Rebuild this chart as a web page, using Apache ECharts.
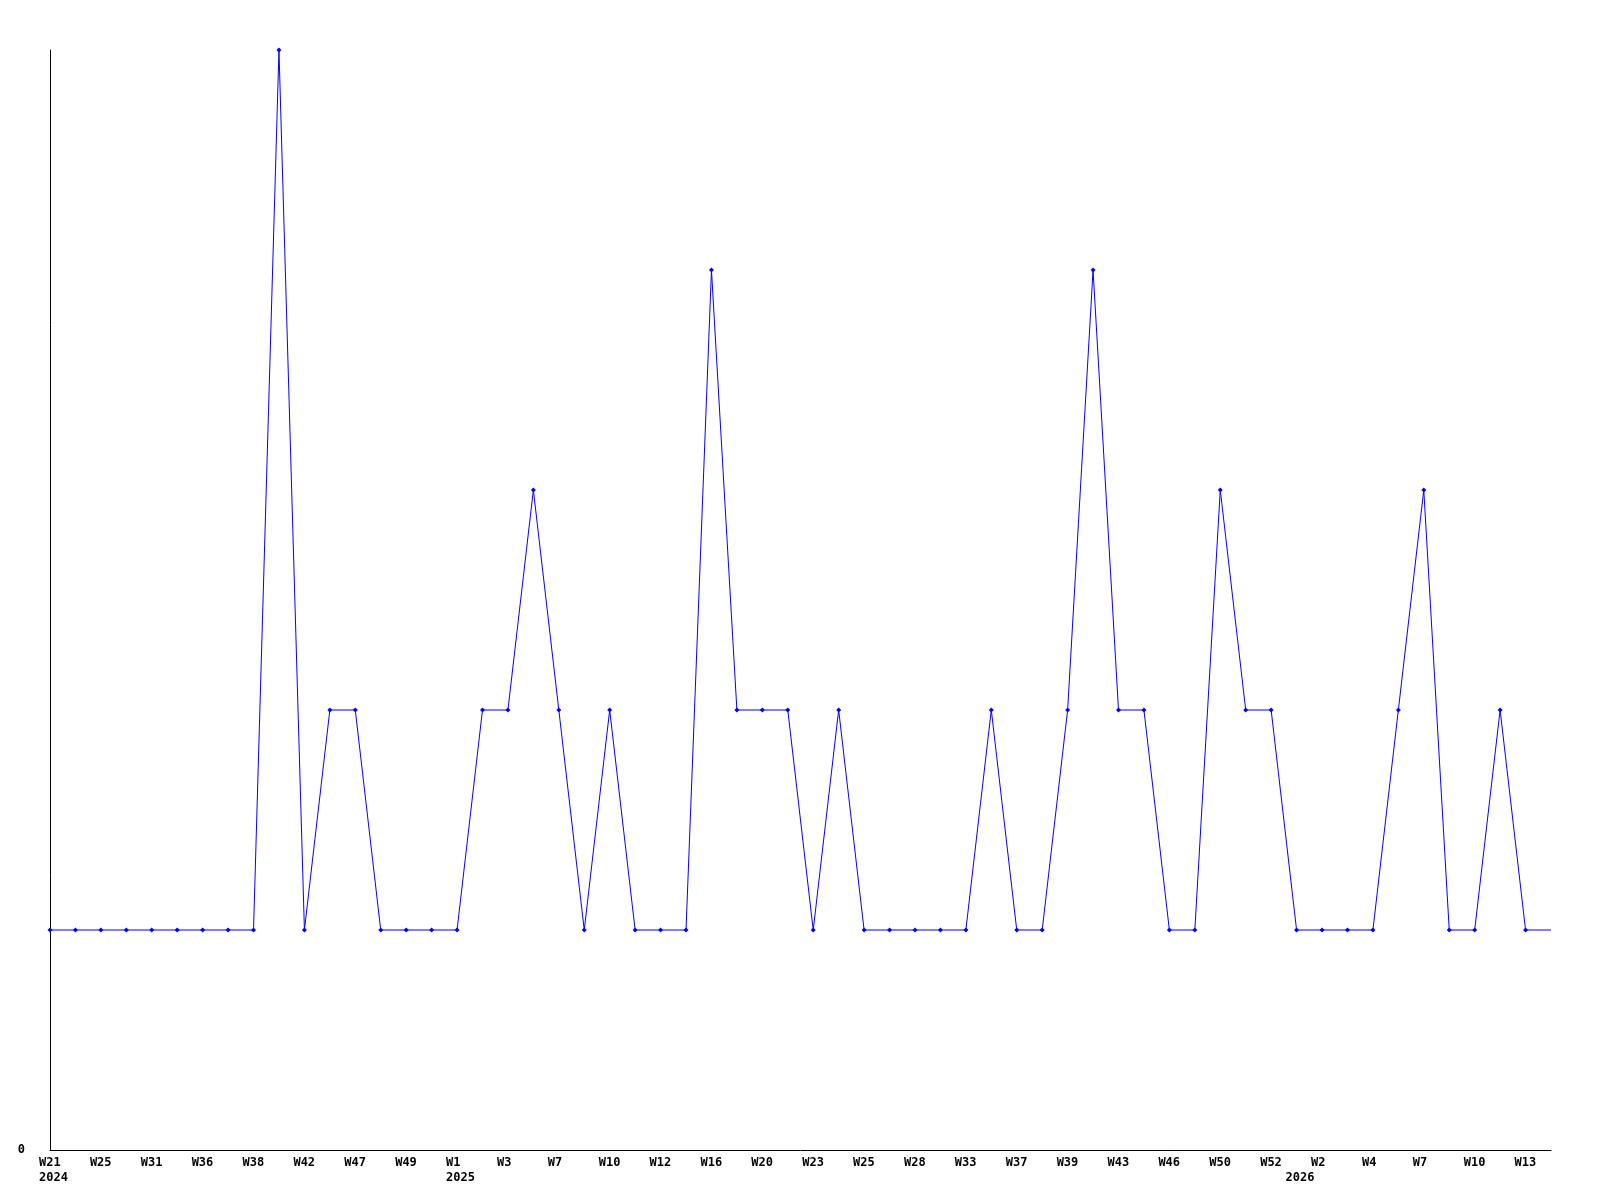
<!DOCTYPE html>
<html>
<head>
<meta charset="utf-8">
<script src="https://cdn.jsdelivr.net/npm/echarts@6/dist/echarts.min.js"></script>
<style>html,body{margin:0;padding:0;background:#fff;}#c{width:1600px;height:1200px;}</style>
</head>
<body>
<div id="c"></div>
<script>
const weeks = ["W21","W23","W25","W28","W31","W33","W36","W37","W38","W40","W42","W45","W47","W48","W49","W51",
  "W1","W2","W3","W5","W7","W8","W10","W11","W12","W14","W16","W18","W20","W21","W23","W24","W25","W26","W28","W30",
  "W33","W35","W37","W38","W39","W41","W43","W44","W46","W48","W50","W51","W52",
  "W1","W2","W3","W4","W5","W7","W8","W10","W11","W13","W14"];
const years = [2024,2024,2024,2024,2024,2024,2024,2024,2024,2024,2024,2024,2024,2024,2024,2024,
  2025,2025,2025,2025,2025,2025,2025,2025,2025,2025,2025,2025,2025,2025,2025,2025,2025,2025,2025,2025,
  2025,2025,2025,2025,2025,2025,2025,2025,2025,2025,2025,2025,2025,
  2026,2026,2026,2026,2026,2026,2026,2026,2026,2026,2026];
const values = [1,1,1,1,1,1,1,1,1,5,1,2,2,1,1,1,
  1,2,2,3,2,1,2,1,1,1,4,2,2,2,1,2,1,1,1,1,
  1,2,1,1,2,4,2,2,1,1,3,2,2,
  1,1,1,1,2,3,1,1,2,1,1];
const yTicks = [0];

const chart = echarts.init(document.getElementById('c'), null, {renderer:'canvas'});
const showLabel = i => (i % 2 === 0 && i < weeks.length - 1) || (i === 0 || years[i] !== years[i-1]);
chart.setOption({
  animation: false,
  backgroundColor: '#ffffff',
  grid: {left: 50, right: 49, top: 50, bottom: 50, containLabel: false},
  xAxis: {
    type: 'category',
    data: weeks.map((w, i) => i),
    boundaryGap: false,
    axisLine: {lineStyle: {color: '#000', width: 1}},
    axisTick: {show: false},
    splitLine: {show: false},
    axisLabel: {
      interval: (i) => showLabel(i),
      margin: 5,
      align: 'left',
      padding: [0, 0, 0, -11],
      lineHeight: 15,
      fontFamily: 'DejaVu Sans Mono',
      fontWeight: 'bold',
      fontSize: 12,
      color: '#000',
      formatter: (v, i) => {
        const w = (i % 2 === 0) ? weeks[i] : '';
        const y = (i === 0 || years[i] !== years[i-1]) ? String(years[i]) : '';
        return y ? (w + '\n' + y) : w;
      }
    }
  },
  yAxis: {
    type: 'value',
    min: 0, max: 5, interval: 5,
    axisLine: {show: true, lineStyle: {color: '#000', width: 1}},
    axisTick: {show: false},
    splitLine: {show: false},
    axisLabel: {
      margin: 25,
      padding: [4, 0, 0, 0],
      fontFamily: 'DejaVu Sans Mono',
      fontWeight: 'bold',
      fontSize: 12,
      color: '#000',
      formatter: v => yTicks.includes(v) ? String(v) : ''
    }
  },
  series: [{
    type: 'line',
    data: values.map((v, i) => i === values.length - 1 ? {value: v, symbol: 'none'} : v),
    symbol: 'diamond',
    symbolSize: 5,
    showSymbol: true,
    lineStyle: {color: '#0000ff', width: 1},
    itemStyle: {color: '#0000ff'},
    emphasis: {disabled: true}
  }]
});
</script>
</body>
</html>
